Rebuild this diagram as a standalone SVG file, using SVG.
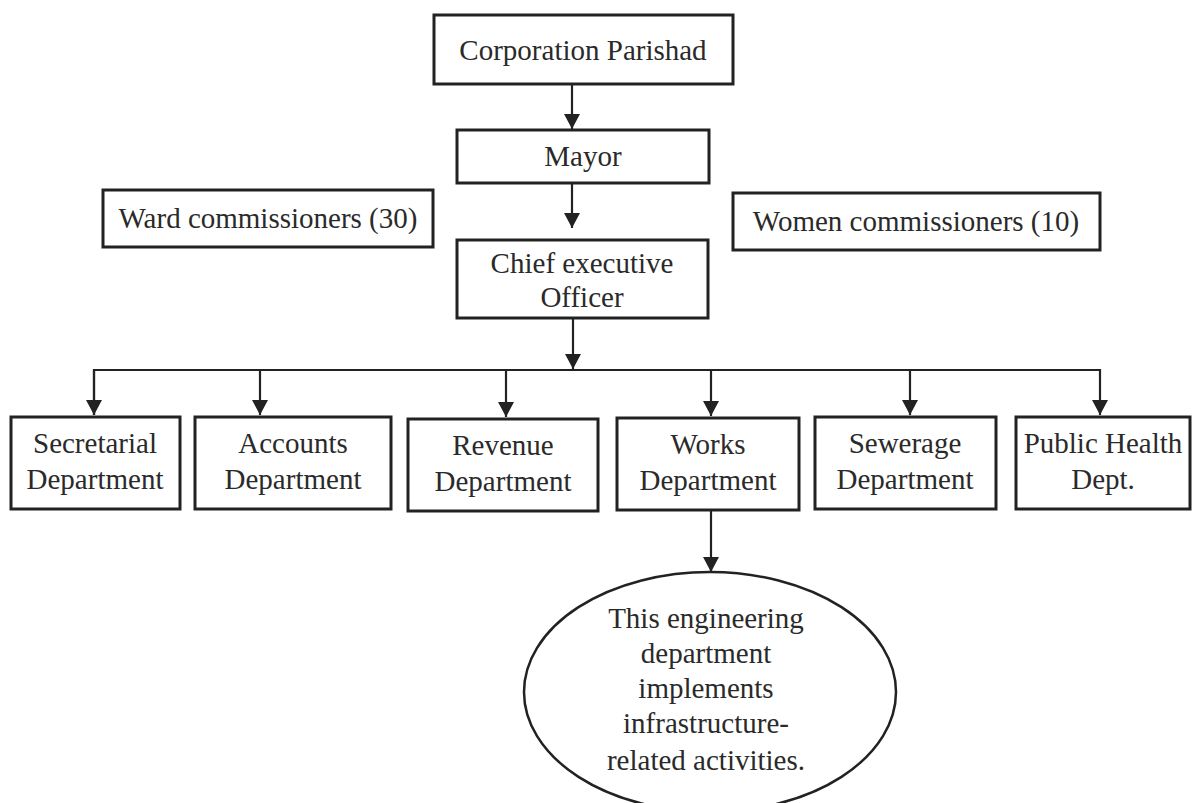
<svg xmlns="http://www.w3.org/2000/svg" width="1200" height="803" viewBox="0 0 1200 803">
<style>
.box{fill:#fff;stroke:#222;stroke-width:3}
.t{font-family:"Liberation Serif","Times New Roman",serif;font-size:29px;fill:#2a2a2a;text-anchor:middle}
.c{fill:none;stroke:#222;stroke-width:2.2}
</style>
<defs>
<marker id="ah" viewBox="0 0 15 16" refX="15" refY="8" markerWidth="15" markerHeight="16" markerUnits="userSpaceOnUse" orient="auto">
<path d="M0,0 L15,8 L0,16 Z" fill="#222"/>
</marker>
</defs>
<rect width="1200" height="803" fill="#fff"/>
<g id="connectors">
<line class="c" x1="572" y1="84" x2="572" y2="129" marker-end="url(#ah)"/>
<line class="c" x1="572" y1="183" x2="572" y2="228" marker-end="url(#ah)"/>
<line class="c" x1="573" y1="318" x2="573" y2="369" marker-end="url(#ah)"/>
<polyline class="c" points="94,415 94,370 1100,370 1100,415" marker-end="url(#ah)"/>
<line class="c" x1="94" y1="370" x2="94" y2="415" marker-end="url(#ah)"/>
<line class="c" x1="260" y1="370" x2="260" y2="415" marker-end="url(#ah)"/>
<line class="c" x1="506" y1="370" x2="506" y2="417" marker-end="url(#ah)"/>
<line class="c" x1="711" y1="370" x2="711" y2="416" marker-end="url(#ah)"/>
<line class="c" x1="910" y1="370" x2="910" y2="415" marker-end="url(#ah)"/>
<line class="c" x1="711" y1="510" x2="711" y2="572" marker-end="url(#ah)"/>
</g>
<g id="corporation-parishad">
<rect class="box" x="434" y="15" width="299" height="69"/>
<text class="t" x="583" y="60">Corporation Parishad</text>
</g>
<g id="mayor">
<rect class="box" x="457" y="130" width="252" height="53"/>
<text class="t" x="583" y="166">Mayor</text>
</g>
<g id="ward-commissioners">
<rect class="box" x="103" y="190" width="330" height="57"/>
<text class="t" x="268" y="228">Ward commissioners (30)</text>
</g>
<g id="women-commissioners">
<rect class="box" x="733" y="193" width="367" height="57"/>
<text class="t" x="916" y="231">Women commissioners (10)</text>
</g>
<g id="ceo">
<rect class="box" x="457" y="240" width="251" height="78"/>
<text class="t" x="582" y="273">Chief executive</text>
<text class="t" x="582" y="307">Officer</text>
</g>
<g id="secretarial">
<rect class="box" x="11" y="417" width="169" height="92"/>
<text class="t" x="95" y="453">Secretarial</text>
<text class="t" x="95" y="489">Department</text>
</g>
<g id="accounts">
<rect class="box" x="195" y="417" width="196" height="92"/>
<text class="t" x="293" y="453">Accounts</text>
<text class="t" x="293" y="489">Department</text>
</g>
<g id="revenue">
<rect class="box" x="408" y="419" width="190" height="92"/>
<text class="t" x="503" y="455">Revenue</text>
<text class="t" x="503" y="491">Department</text>
</g>
<g id="works">
<rect class="box" x="617" y="418" width="182" height="92"/>
<text class="t" x="708" y="454">Works</text>
<text class="t" x="708" y="490">Department</text>
</g>
<g id="sewerage">
<rect class="box" x="815" y="417" width="181" height="92"/>
<text class="t" x="905" y="453">Sewerage</text>
<text class="t" x="905" y="489">Department</text>
</g>
<g id="public-health">
<rect class="box" x="1016" y="417" width="174" height="92"/>
<text class="t" x="1103" y="453">Public Health</text>
<text class="t" x="1103" y="489">Dept.</text>
</g>
<g id="engineering-note">
<ellipse cx="710" cy="692" rx="186" ry="120" fill="#fff" stroke="#222" stroke-width="2.5"/>
<text class="t" x="706" y="628">This engineering</text>
<text class="t" x="706" y="663">department</text>
<text class="t" x="706" y="698">implements</text>
<text class="t" x="706" y="733">infrastructure-</text>
<text class="t" x="706" y="770">related activities.</text>
</g>
</svg>
